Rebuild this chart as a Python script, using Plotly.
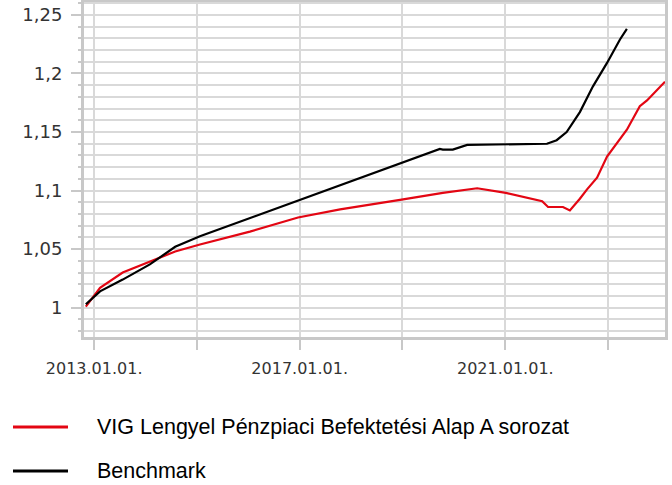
import plotly.graph_objects as go

# Data
fund_dates = ["2012-11-03", "2013-02-12", "2013-07-23", "2014-07-31", "2015-01-23",
              "2016-01-13", "2016-12-20", "2017-10-15", "2018-12-15", "2019-10-15",
              "2020-06-15", "2021-01-05", "2021-09-20", "2021-11-01", "2022-02-15",
              "2022-04-05", "2022-06-15", "2022-08-05", "2022-10-15", "2022-12-25",
              "2023-05-15", "2023-08-15", "2023-10-05", "2024-02-10"]
fund_values = [1.001, 1.017, 1.030, 1.048, 1.054,
               1.065, 1.077, 1.084, 1.092, 1.098,
               1.102, 1.098, 1.091, 1.086, 1.086,
               1.083, 1.093, 1.101, 1.111, 1.129,
               1.152, 1.172, 1.177, 1.193]

bench_dates = ["2012-11-03", "2013-02-12", "2013-07-23", "2014-02-01", "2014-07-31",
               "2015-01-23", "2019-09-24", "2019-10-15", "2019-12-25", "2020-04-05",
               "2021-10-24", "2022-01-01", "2022-03-13", "2022-04-25", "2022-06-15",
               "2022-09-16", "2022-12-25", "2023-03-27", "2023-05-15"]
bench_values = [1.003, 1.014, 1.024, 1.037, 1.052,
                1.061, 1.1355, 1.135, 1.135, 1.139,
                1.140, 1.143, 1.150, 1.158, 1.167,
                1.189, 1.209, 1.229, 1.238]

x_tickvals = ["2013-01-01", "2015-01-01", "2017-01-01", "2019-01-01", "2021-01-01", "2023-01-01"]
x_ticktext = ["2013.01.01.", "", "2017.01.01.", "", "2021.01.01.", ""]

series_names = ["VIG Lengyel Pénzpiaci Befektetési Alap A sorozat", "Benchmark"]
series_colors = ["#e30613", "#000000"]

fig = go.Figure()
fig.add_trace(go.Scatter(x=fund_dates, y=fund_values, mode="lines", name=series_names[0],
                         line=dict(color=series_colors[0], width=2.2), showlegend=False))
fig.add_trace(go.Scatter(x=bench_dates, y=bench_values, mode="lines", name=series_names[1],
                         line=dict(color=series_colors[1], width=2.2), showlegend=False))

grid = "#d9d9d9"
fig.update_xaxes(
    range=["2012-10-21", "2024-02-10"],
    tickvals=x_tickvals, ticktext=x_ticktext,
    showgrid=True, gridcolor=grid, gridwidth=2,
    ticks="outside", ticklen=10, tickwidth=2, tickcolor="#c8c8c8",
    showline=True, linecolor="#c8c8c8", linewidth=3, mirror=True,
    tickfont=dict(family="DejaVu Sans", size=16, color="#333333"),
    ticklabelstandoff=5,
    automargin=False,
    zeroline=False,
)
fig.update_yaxes(
    range=[0.975, 1.261],
    tick0=1, dtick=0.05,
    showgrid=True, gridcolor=grid, gridwidth=2,
    ticks="outside", ticklen=10, tickwidth=2, tickcolor="#c8c8c8",
    minor=dict(dtick=0.01, tick0=1, showgrid=True, gridcolor=grid, gridwidth=2,
               ticks="outside", ticklen=3, tickcolor="#c8c8c8", tickwidth=2),
    showline=True, linecolor="#c8c8c8", linewidth=3, mirror=True,
    tickfont=dict(family="DejaVu Sans", size=18, color="#333333"),
    ticklabelstandoff=5,
    automargin=False,
    zeroline=False,
)

# legend drawn below the plot
leg_y = [427, 471]
for i in range(2):
    yp = 1 - (leg_y[i] - 2) / 335.0
    fig.add_shape(type="line", xref="paper", yref="paper",
                  x0=(13 - 84) / 581.0, x1=(68 - 84) / 581.0, y0=yp, y1=yp,
                  line=dict(color=series_colors[i], width=3))
    fig.add_annotation(xref="paper", yref="paper", x=(95 - 84) / 581.0, y=yp,
                       text=series_names[i], showarrow=False, xanchor="left", yanchor="middle",
                       font=dict(family="Liberation Sans, Arial", size=21.5, color="#000000"))

fig.update_layout(
    width=672, height=485,
    margin=dict(l=84, r=7, t=2, b=148),
    plot_bgcolor="white", paper_bgcolor="white",
    separators=", ",
)
fig.write_html("out.html", config={"displayModeBar": False},
               post_script="document.body.style.margin='0';")
